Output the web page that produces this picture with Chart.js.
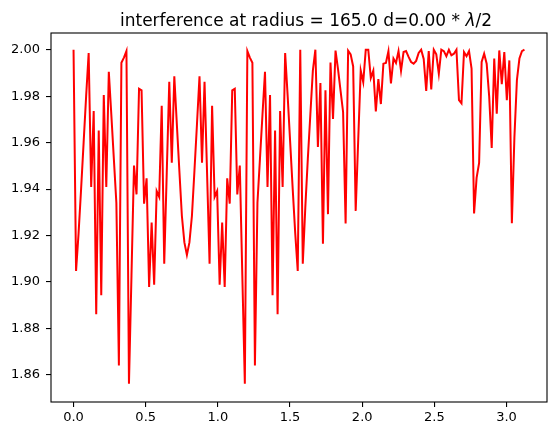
<!DOCTYPE html>
<html>
<head>
<meta charset="utf-8">
<script src="https://cdn.jsdelivr.net/npm/chart.js@4.4.1/dist/chart.umd.min.js"></script>
<style>
  html, body { margin: 0; padding: 0; background: #fff; }
  #wrap { width: 556px; height: 436px; }
</style>
</head>
<body>
<div id="wrap"><canvas id="interferenceChart" width="556" height="436"></canvas></div>
<script>
// one sample per degree, 0..179, plotted in radians
const firstHalf = [
    2.000, 1.9047, 1.921, 1.940, 1.960, 1.980, 1.9986, 1.9409, 1.9736, 1.8861,
    1.9652, 1.8943, 1.9805, 1.9409, 1.9905, 1.972, 1.953, 1.934, 1.8640, 1.9944,
    1.9966, 1.9994, 1.8562, 1.9028, 1.9501, 1.9377, 1.9832, 1.9825, 1.9337, 1.9446,
    1.8978, 1.9256, 1.8988, 1.9391, 1.9366, 1.9759, 1.9078, 1.947, 1.9862, 1.9513,
    1.9886, 1.968, 1.948, 1.9285, 1.917, 1.9116, 1.917, 1.9285, 1.948, 1.968,
    1.9886, 1.9513, 1.9862, 1.947, 1.9078, 1.9759, 1.9366, 1.9391, 1.8988, 1.9256,
    1.8978, 1.9446, 1.9337, 1.9825, 1.9832, 1.9377, 1.9501, 1.9028, 1.8562, 1.9994,
    1.9966, 1.9944, 1.8640, 1.934, 1.953, 1.972, 1.9905, 1.9409, 1.9805, 1.8943,
    1.9652, 1.8861, 1.9736, 1.9409, 1.9986, 1.980, 1.960, 1.940, 1.921, 1.9047
];
const secondHalf = [
    2.000, 1.9078, 1.932, 1.953, 1.972, 1.991, 2.000, 1.9581, 1.9857, 1.9165,
    1.9825, 1.9292, 1.9945, 1.9702, 1.9996, 1.9915, 1.9823, 1.9732, 1.9252, 1.9996,
    1.998, 1.9928, 1.9306, 1.961, 1.991, 1.986, 2.000, 2.000, 1.9878, 1.991,
    1.9734, 1.9874, 1.9766, 1.994, 1.9943, 1.9994, 1.9855, 1.9962, 1.9943, 1.9994,
    1.9909, 1.999, 1.9994, 1.9969, 1.9947, 1.994, 1.9952, 1.9986, 2.000, 1.996,
    1.9823, 1.9994, 1.9829, 2.000, 1.998, 1.9897, 2.000, 1.9994, 1.9972, 2.000,
    1.9976, 1.9983, 2.000, 1.9783, 1.9769, 1.999, 1.9972, 1.9994, 1.9919, 1.9295,
    1.9448, 1.9513, 1.9947, 1.9983, 1.994, 1.9798, 1.9577, 1.9962, 1.9724, 1.9997,
    1.9852, 1.999, 1.9783, 1.9954, 1.9253, 1.962, 1.9869, 1.9962, 1.9994, 2.000
];
const intensity = firstHalf.concat(secondHalf);

const xTicks = [0.0, 0.5, 1.0, 1.5, 2.0, 2.5, 3.0];
const yTicks = [1.86, 1.88, 1.90, 1.92, 1.94, 1.96, 1.98, 2.00];

const titleParts = [
    { text: "interference at radius = 165.0 d=0.00 * ", italic: false },
    { text: "λ", italic: true },
    { text: "/2", italic: false }
];

const points = intensity.map((v, i) => ({ x: i * Math.PI / 180, y: v }));

// matplotlib style frame + title with an italic lambda
const frameAndTitle = {
    id: "frameAndTitle",
    afterDraw(chart) {
        const { ctx, chartArea } = chart;
        ctx.save();
        ctx.strokeStyle = "#000";
        ctx.lineWidth = 1.1;
        ctx.strokeRect(chartArea.left, chartArea.top, chartArea.right - chartArea.left, chartArea.bottom - chartArea.top);

        const size = 17;
        const fonts = titleParts.map(p => (p.italic ? "italic " : "") + size + "px 'DejaVu Sans'");
        let total = 0;
        const widths = titleParts.map((p, i) => {
            ctx.font = fonts[i];
            const w = ctx.measureText(p.text).width;
            total += w;
            return w;
        });
        let x = 306 - total / 2;
        ctx.fillStyle = "#000";
        ctx.textBaseline = "alphabetic";
        ctx.textAlign = "left";
        titleParts.forEach((p, i) => {
            ctx.font = fonts[i];
            ctx.fillText(p.text, x, 25.7);
            x += widths[i];
        });
        ctx.restore();
    }
};

new Chart(document.getElementById("interferenceChart"), {
    type: "line",
    data: {
        datasets: [{
            data: points,
            borderColor: "#ff0000",
            borderWidth: 2,
            pointRadius: 0,
            tension: 0,
            fill: false
        }]
    },
    options: {
        responsive: false,
        animation: false,
        devicePixelRatio: 1,
        layout: { padding: { left: 0, right: 9, top: 33, bottom: 0 } },
        plugins: {
            legend: { display: false },
            tooltip: { enabled: false },
            title: { display: false }
        },
        scales: {
            x: {
                type: "linear",
                min: -0.1562,
                max: 3.2803,
                afterBuildTicks: scale => { scale.ticks = xTicks.map(v => ({ value: v })); },
                afterFit: scale => { scale.height = 34; },
                grid: { drawOnChartArea: false, color: "#000", tickLength: 5, lineWidth: 1.1 },
                border: { display: false },
                ticks: {
                    color: "#000",
                    padding: 3,
                    maxRotation: 0,
                    font: { family: "'DejaVu Sans'", size: 13 },
                    callback: v => v.toFixed(1)
                }
            },
            y: {
                type: "linear",
                min: 1.8483,
                max: 2.0072,
                afterBuildTicks: scale => { scale.ticks = yTicks.map(v => ({ value: v })); },
                afterFit: scale => { scale.width = 51; },
                grid: { drawOnChartArea: false, color: "#000", tickLength: 5, lineWidth: 1.1 },
                border: { display: false },
                ticks: {
                    color: "#000",
                    padding: 6,
                    font: { family: "'DejaVu Sans'", size: 13 },
                    callback: v => v.toFixed(2)
                }
            }
        }
    },
    plugins: [frameAndTitle]
});
</script>
</body>
</html>
